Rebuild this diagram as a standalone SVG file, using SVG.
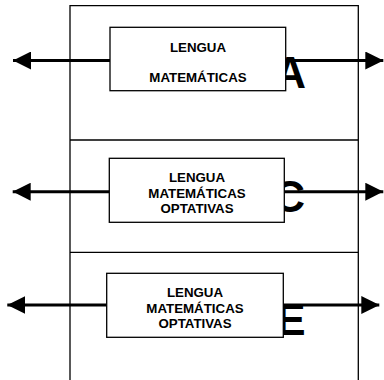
<svg xmlns="http://www.w3.org/2000/svg" width="384" height="380" viewBox="0 0 384 380">
<style>
.frame{fill:none;stroke:#000;stroke-width:1.3}
.box{fill:#fff;stroke:#000;stroke-width:1.3}
.lbl{font-family:"Liberation Sans",Arial,sans-serif;font-weight:bold;font-size:13.3px;text-anchor:middle;fill:#000}
.big{font-family:"Liberation Sans",Arial,sans-serif;font-weight:bold;font-size:44px;text-anchor:end;fill:#000}
.conn{stroke:#000;stroke-width:3;fill:none;marker-end:url(#ah)}
</style>
<defs>
<marker id="ah" markerUnits="userSpaceOnUse" markerWidth="18" markerHeight="18" viewBox="0 0 16 16" refX="16" refY="8" orient="auto">
<path d="M0,0 L16,8 L0,16 Z" fill="#000"/>
</marker>
</defs>
<rect width="384" height="380" fill="#fff"/>
<g id="frame">
<path class="frame" d="M70,390 V5.7 H358.3 V390 M70,140 H358.3 M70,252.3 H358.3"/>
</g>
<g id="letters">
<text class="big" x="306" y="88">A</text>
<text class="big" x="305" y="212">C</text>
<text class="big" x="305.5" y="335">E</text>
</g>
<g id="connectors">
<line class="conn" x1="110" y1="60.5" x2="13" y2="60.5"/>
<line class="conn" x1="285.7" y1="60.5" x2="383.3" y2="60.5"/>
<line class="conn" x1="109.3" y1="191.7" x2="12.7" y2="191.7"/>
<line class="conn" x1="284.3" y1="191.7" x2="383.3" y2="191.7"/>
<line class="conn" x1="106.7" y1="305" x2="7.3" y2="305"/>
<line class="conn" x1="283.3" y1="305" x2="379.3" y2="305"/>
</g>
<g id="nodeA">
<rect class="box" x="110" y="27.3" width="175.7" height="63.4"/>
<text class="lbl" x="198" y="52">LENGUA</text>
<text class="lbl" x="198" y="82">MATEMÁTICAS</text>
</g>
<g id="nodeC">
<rect class="box" x="109.3" y="158.3" width="175" height="64"/>
<text class="lbl" x="197" y="182">LENGUA</text>
<text class="lbl" x="197" y="198">MATEMÁTICAS</text>
<text class="lbl" x="197" y="213">OPTATIVAS</text>
</g>
<g id="nodeE">
<rect class="box" x="106.7" y="273.3" width="176.6" height="64"/>
<text class="lbl" x="195" y="297">LENGUA</text>
<text class="lbl" x="195" y="313">MATEMÁTICAS</text>
<text class="lbl" x="195" y="328">OPTATIVAS</text>
</g>
</svg>
